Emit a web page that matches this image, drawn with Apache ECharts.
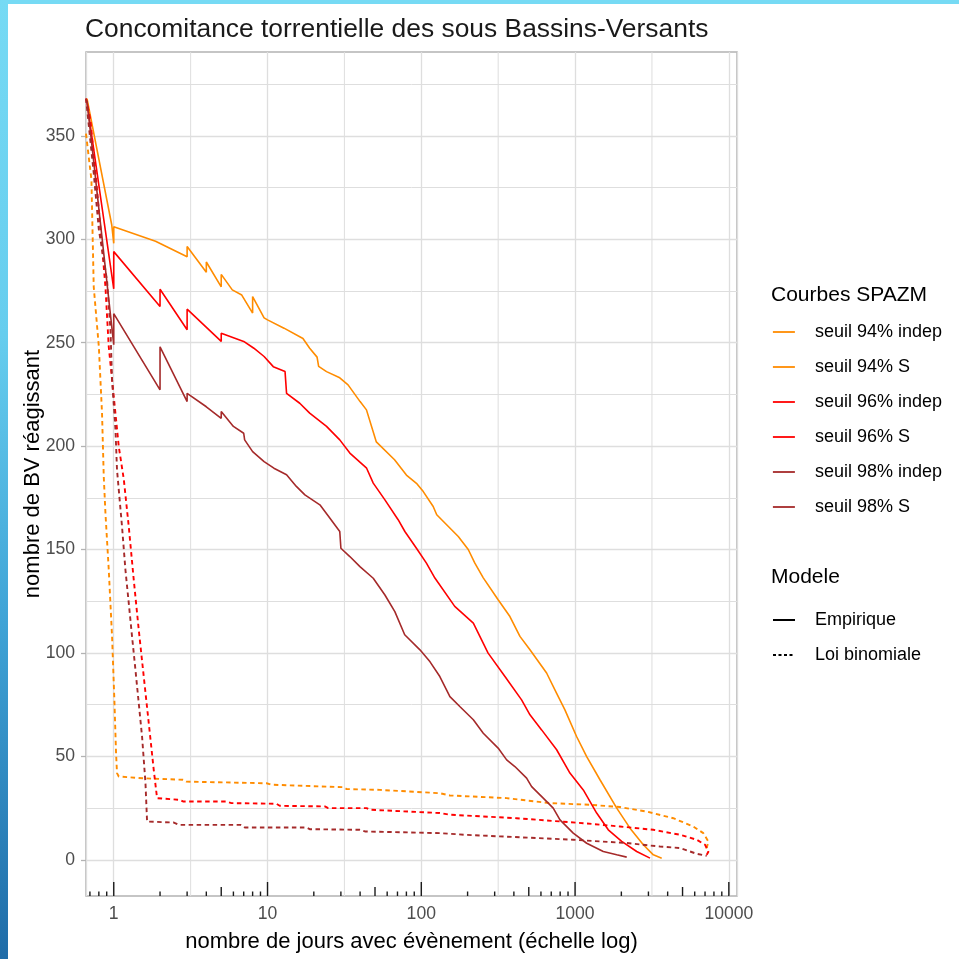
<!DOCTYPE html>
<html>
<head>
<meta charset="utf-8">
<script src="https://cdn.jsdelivr.net/npm/echarts@6/dist/echarts.min.js"></script>
<style>
  html, body { margin: 0; padding: 0; background: #ffffff; }
  #wrap { position: relative; width: 959px; height: 959px; overflow: hidden; }
  #chart { position: absolute; left: 0; top: 0; width: 959px; height: 959px; }
  #frameTop { position: absolute; left: 0; top: 0; width: 959px; height: 4px; background: #76DAF4; }
  #frameLeft { position: absolute; left: 0; top: 0; width: 8px; height: 959px;
    background: linear-gradient(to bottom, #76DAF4 0%, #66CDEE 35%, #3FA3D6 65%, #1F6CA8 100%); }
</style>
</head>
<body>
<div id="wrap">
  <div id="chart"></div>
  <div id="frameTop"></div>
  <div id="frameLeft"></div>
</div>
<script>
// ---------------- DATA ----------------
const chartTitle = 'Concomitance torrentielle des sous Bassins-Versants';
const xAxisTitle = 'nombre de jours avec évènement (échelle log)';
const yAxisTitle = 'nombre de BV réagissant';
const legendTitle1 = 'Courbes SPAZM';
const legendTitle2 = 'Modele';
const seriesNames = ['seuil 94% indep', 'seuil 94% S', 'seuil 96% indep', 'seuil 96% S', 'seuil 98% indep', 'seuil 98% S'];
const modelNames = ['Empirique', 'Loi binomiale'];
const xTickLabels = [1, 10, 100, 1000, 10000];
const yTickLabels = [0, 50, 100, 150, 200, 250, 300, 350];
const logTickValues = [0.7, 0.8, 0.9,
  1, 2, 3, 4, 5, 6, 7, 8, 9,
  10, 20, 30, 40, 50, 60, 70, 80, 90,
  100, 200, 300, 400, 500, 600, 700, 800, 900,
  1000, 2000, 3000, 4000, 5000, 6000, 7000, 8000, 9000, 10000];

// empirical curves (solid)
const s94_S = [[0.67,368],[0.97,307],[1,298],[1,306],[1.87,299],[3,291.5],[3,296.5],[4,284],[4,289],[5,277],[5,283],[5.9,275.5],[6.8,273],[8,264.3],[8,272.3],[9.5,262],[10,261],[12.8,257],[17,252],[18.8,247.3],[21,243],[21.5,238.5],[24.2,236],[29.5,233],[33.4,229.6],[40,221.5],[44,217.5],[51,202],[67,193.4],[80,186],[93,182],[103,178],[119.5,170.8],[126,166.8],[174,156.3],[202,150],[223,143.4],[253,136.3],[316,125.7],[377,117.6],[438,108],[509,101.5],[653,90.3],[759,80.5],[859,72.5],[1023,59.6],[1190,49.9],[1452,38.7],[1866,25],[2276,15.3],[2778,7.3],[3228,2.4],[3660,0.8]];
const s96_S = [[0.67,366],[1,276],[1,294],[2,267.5],[2,275.8],[3,256.2],[3,266.2],[5,250.6],[5,254.5],[7,250.6],[8.15,247.3],[9.5,243.3],[10.9,238.4],[13,236],[13.3,225.5],[16.2,220.7],[18.8,215.9],[24.2,209.5],[29.5,203],[34.3,196.6],[44.1,189.3],[48.7,182.1],[58,174],[70.7,164.4],[78.2,158.7],[93,150.6],[108,143.4],[122.6,136.2],[165,122.5],[218,114.4],[272,99.9],[350,88.6],[449,77.3],[509,70.1],[606,62.8],[759,53.2],[926,41.9],[1131,33.8],[1382,22.6],[1644,14.5],[2010,8.9],[2517,4],[3071,0.8]];
const s98_S = [[0.67,367],[1,249],[1,264],[2,227.2],[2,248],[3,221.5],[3,225.5],[4,219],[5,213.4],[5,216.7],[6,209.5],[7,206.2],[7.1,203],[8,197.3],[9.5,192.5],[11,189.3],[13.3,186.1],[15.4,180.5],[17.5,176.4],[21.9,171.6],[25.4,165.2],[29.5,158.7],[30,150.6],[34.3,146.6],[39.9,141.7],[48.7,136.1],[58,128],[67.3,120],[78,108.8],[98,101.5],[114,95.7],[132,88.6],[153.5,78.9],[178,74.1],[218,67.7],[253,61.2],[316,54],[359,48.3],[406,45.1],[484,39.5],[522,35.4],[621,29.8],[721,25],[798,19.3],[973,12.9],[1190,8],[1526,4],[1866,2.4],[2167,1.3]];

// binomial curves (dotted)
const s94_indep = [[0.66,351],[0.716,328.7],[0.741,277],[0.8,248],[0.839,215.9],[0.861,185.3],[0.883,167.6],[0.928,140.2],[0.975,108],[1.011,75.8],[1.035,51.6],[1.05,41.9],[1.078,40.3],[1.55,39.4],[2.82,38.7],[2.97,37.8],[9.85,37],[10.6,36.3],[31,35.1],[32.7,34.2],[53.8,33.8],[132,32.2],[153.5,31.1],[359,29.8],[687,27.4],[1250,26.6],[1959,25.5],[2923,23.3],[4355,20.1],[5875,16.1],[6826,12.9],[7360,8.8],[7180,5.7],[7360,3.2]];
const s96_indep = [[0.66,368],[0.705,357.7],[0.779,323.9],[0.839,296.5],[0.883,277],[0.928,248],[1,224],[1.078,199.8],[1.162,184],[1.252,161.1],[1.349,135.4],[1.454,111.2],[1.567,88.6],[1.689,66.1],[1.82,43.5],[1.913,29.8],[2.69,29],[2.82,28.2],[5.41,28.2],[5.83,27.4],[11.4,27.1],[12,26.1],[23.6,25.8],[24.8,25],[44.1,25],[46.3,24.2],[132,22.6],[153.5,21.8],[417,20.1],[1131,17.7],[1959,16.1],[3228,14.5],[4812,12.1],[6180,9.7],[7000,7.3],[7360,4],[7180,2.4]];
const s98_indep = [[0.66,368],[0.741,331.9],[0.8,304.6],[0.905,280],[0.952,256.2],[0.975,232],[1.026,207.9],[1.05,188.5],[1.132,161.1],[1.191,140.2],[1.252,124.1],[1.315,108],[1.384,91.8],[1.454,75.7],[1.528,59.6],[1.608,37.1],[1.647,18.5],[2.46,18],[2.65,16.9],[6.67,16.9],[7.12,15.6],[17.9,15.6],[18.8,14.8],[39.9,14.5],[43,13.7],[132,12.9],[192,12.1],[973,9.7],[2167,8.1],[3567,6.4],[4812,5.7],[6180,2.9],[7180,1.9]];

// ---------------- STYLE ----------------
const FONT = '"Liberation Sans", Arial, sans-serif';
const C94 = '#FF8C00', C96 = '#FF0000', C98 = '#A52A2A';
const GRID = '#DEDEDE';
const DOT = [4.5, 3.5];

// minor vertical grid lines halfway (in log space) between decades
const minorGridX = xTickLabels.slice(0, -1).map(v => v * Math.sqrt(10));

const curves = [
  { name: seriesNames[0], data: s94_indep, color: C94, dotted: true },
  { name: seriesNames[1], data: s94_S, color: C94, dotted: false },
  { name: seriesNames[2], data: s96_indep, color: C96, dotted: true },
  { name: seriesNames[3], data: s96_S, color: C96, dotted: false },
  { name: seriesNames[4], data: s98_indep, color: C98, dotted: true },
  { name: seriesNames[5], data: s98_S, color: C98, dotted: false }
];

const series = [];
// minor vertical grid
series.push({
  type: 'custom', coordinateSystem: 'cartesian2d', silent: true, z: 1, clip: false,
  data: minorGridX.map(v => [v, 0]), encode: { x: 0, y: 1 },
  renderItem: function (params, api) {
    const x = api.coord([api.value(0), 0])[0];
    const cs = params.coordSys;
    return { type: 'line', shape: { x1: x, y1: cs.y, x2: x, y2: cs.y + cs.height },
      style: { stroke: GRID, lineWidth: 1.0 } };
  }
});
curves.forEach(c => series.push({
  type: 'line', name: c.name, data: c.data,
  symbol: 'none', showSymbol: false, clip: true, z: 3,
  itemStyle: { color: c.color },
  lineStyle: { color: c.color, width: c.dotted ? 1.9 : 1.6, type: c.dotted ? DOT : 'solid' },
  emphasis: { disabled: true }
}));
series.push({ type: 'line', name: modelNames[0], data: [], symbol: 'none',
  itemStyle: { color: '#000' }, lineStyle: { color: '#000', width: 1.6, type: 'solid' } });
series.push({ type: 'line', name: modelNames[1], data: [], symbol: 'none',
  itemStyle: { color: '#000' }, lineStyle: { color: '#000', width: 1.6, type: [3, 2.5] } });

// log ticks annotation (bottom, inside panel)
series.push({
  type: 'custom', coordinateSystem: 'cartesian2d', silent: true, z: 4, clip: false,
  data: logTickValues.map(v => [v, 0]), encode: { x: 0, y: 1 },
  renderItem: function (params, api) {
    const v = api.value(0);
    const x = api.coord([v, 0])[0];
    const cs = params.coordSys;
    const bottom = cs.y + cs.height;
    const lead = Math.round(v / Math.pow(10, Math.floor(Math.log10(v) + 1e-9)));
    const len = lead === 1 ? 14 : (lead === 5 ? 9 : 4.5);
    return { type: 'line', shape: { x1: x, y1: bottom, x2: x, y2: bottom - len },
      style: { stroke: '#1a1a1a', lineWidth: 1.4 } };
  }
});

const legendText = { fontFamily: FONT, fontSize: 18, color: '#000', padding: [0, 0, 0, 15] };
const hiddenSymbol = { color: 'rgba(0,0,0,0)', opacity: 0, borderWidth: 0 };

const option = {
  animation: false,
  backgroundColor: '#ffffff',
  title: [
    { text: chartTitle, left: 85, top: 17, padding: 0,
      textStyle: { fontFamily: FONT, fontSize: 26.4, fontWeight: 'normal', color: '#1a1a1a' } },
    { text: legendTitle1, left: 771, top: 285, padding: 0,
      textStyle: { fontFamily: FONT, fontSize: 21, fontWeight: 'normal', color: '#000' } },
    { text: legendTitle2, left: 771, top: 567, padding: 0,
      textStyle: { fontFamily: FONT, fontSize: 21, fontWeight: 'normal', color: '#000' } }
  ],
  legend: [
    { orient: 'vertical', left: 772, top: 323, padding: 0, itemWidth: 22, itemHeight: 18, itemGap: 17,
      selectedMode: false, itemStyle: hiddenSymbol,
      data: seriesNames.map(n => ({ name: n, lineStyle: { type: 'solid', width: 1.8 } })),
      textStyle: legendText },
    { orient: 'vertical', left: 772, top: 611, padding: 0, itemWidth: 22, itemHeight: 18, itemGap: 17,
      selectedMode: false, itemStyle: hiddenSymbol,
      data: modelNames.map(n => ({ name: n })),
      textStyle: legendText }
  ],
  grid: { left: 86, right: 222, top: 52, bottom: 63, show: true, borderColor: '#B3B3B3', borderWidth: 1.5, backgroundColor: 'transparent' },
  xAxis: {
    type: 'log', logBase: 10, min: 0.66, max: 11300,
    axisLine: { show: false }, axisTick: { show: false },
    splitLine: { show: true, lineStyle: { color: GRID, width: 1.3 } },
    minorSplitLine: { show: false },
    axisLabel: { customValues: xTickLabels, fontFamily: FONT, fontSize: 17.6, color: '#4D4D4D', margin: 9,
      formatter: v => String(Math.round(v)) },
    name: xAxisTitle, nameLocation: 'middle', nameGap: 35,
    nameTextStyle: { fontFamily: FONT, fontSize: 22, color: '#000' }
  },
  yAxis: {
    type: 'value', min: -17.5, max: 390.5, splitNumber: 8,
    axisLine: { show: false },
    axisTick: { show: true, length: 5, customValues: yTickLabels, lineStyle: { color: '#B3B3B3', width: 1.3 } },
    splitLine: { show: true, lineStyle: { color: GRID, width: 1.3 } },
    minorTick: { show: false, splitNumber: 2 },
    minorSplitLine: { show: true, lineStyle: { color: GRID, width: 1.0 } },
    axisLabel: { customValues: yTickLabels, fontFamily: FONT, fontSize: 17.6, color: '#4D4D4D', margin: 11 },
    name: yAxisTitle, nameLocation: 'middle', nameGap: 42, nameRotate: 90, nameMoveOverlap: false,
    nameTextStyle: { fontFamily: FONT, fontSize: 22, color: '#000' }
  },
  series: series
};

const chart = echarts.init(document.getElementById('chart'), null, { renderer: 'canvas' });
chart.setOption(option);
</script>
</body>
</html>
